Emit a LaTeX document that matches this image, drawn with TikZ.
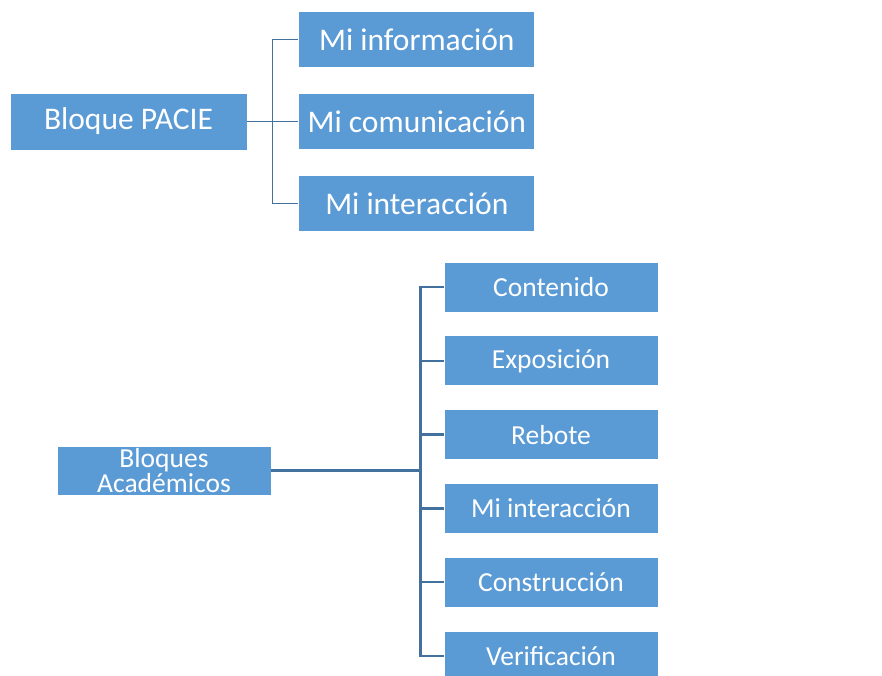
\documentclass[tikz,border=0pt]{standalone}
\usepackage{fontspec}
\setmainfont{Carlito}
\usetikzlibrary{positioning}
\definecolor{boxblue}{HTML}{5B9BD5}
\definecolor{lineblue}{HTML}{41719C}

\begin{document}
\begin{tikzpicture}[
            x=1pt, y=1pt,
            topbox/.style={draw=white, line width=0.8pt, fill=boxblue, rectangle, text=white, minimum width=236pt, minimum height=56pt, inner sep=0pt, font=\fontsize{31.5}{34}\selectfont},
            subbox/.style={draw=white, line width=0.8pt, fill=boxblue, rectangle, text=white, minimum width=214pt, minimum height=50pt, inner sep=0pt, align=center, font=\fontsize{27.5}{25}\selectfont},
            toplink/.style={draw=lineblue, line width=1.5pt},
            sublink/.style={draw=lineblue, line width=2.5pt}
        ]
        \useasboundingbox (0,0) rectangle (882,-675);

        % Bloque PACIE
        \node[topbox, minimum width=237pt, minimum height=57pt] (pacie) at (128.5,-121.5) {Bloque PACIE};
        \node[topbox, right=51pt of pacie] (comunic) {Mi comunicación};
        \node[topbox, above=25pt of comunic] (inform) {Mi información};
        \node[topbox, below=25pt of comunic] (interac) {Mi interacción};

        % Bloques academicos
        \node[subbox, minimum height=49pt] (academ) at (164,-470.5) {Bloques\\Académicos};
        \node[subbox] (conten) at (551,-287) {Contenido};
        \node[subbox, below=23pt of conten] (expos) {Exposición};
        \node[subbox, below=23pt of expos] (rebote) {Rebote};
        \node[subbox, below=23pt of rebote] (minter) {Mi interacción};
        \node[subbox, below=23pt of minter] (constr) {Construcción};
        \node[subbox, below=23pt of constr] (verif) {Verificación};

        % Conectores
        \coordinate (topfork) at ([xshift=-26pt]comunic.west);
        \draw[toplink] (pacie.east) -- (comunic.west);
        \draw[toplink] (inform.west) -| (topfork) |- (interac.west);

        \coordinate (subfork) at ([xshift=-23pt]conten.west |- academ.east);
        \draw[sublink] (academ.east) -- (subfork);
        \draw[sublink] (conten.west) -| (subfork) |- (verif.west);
        \draw[sublink] (subfork) |- (expos.west);
        \draw[sublink] (subfork) |- (rebote.west);
        \draw[sublink] (subfork) |- (minter.west);
        \draw[sublink] (subfork) |- (constr.west);

    \end{tikzpicture}
\end{document}
